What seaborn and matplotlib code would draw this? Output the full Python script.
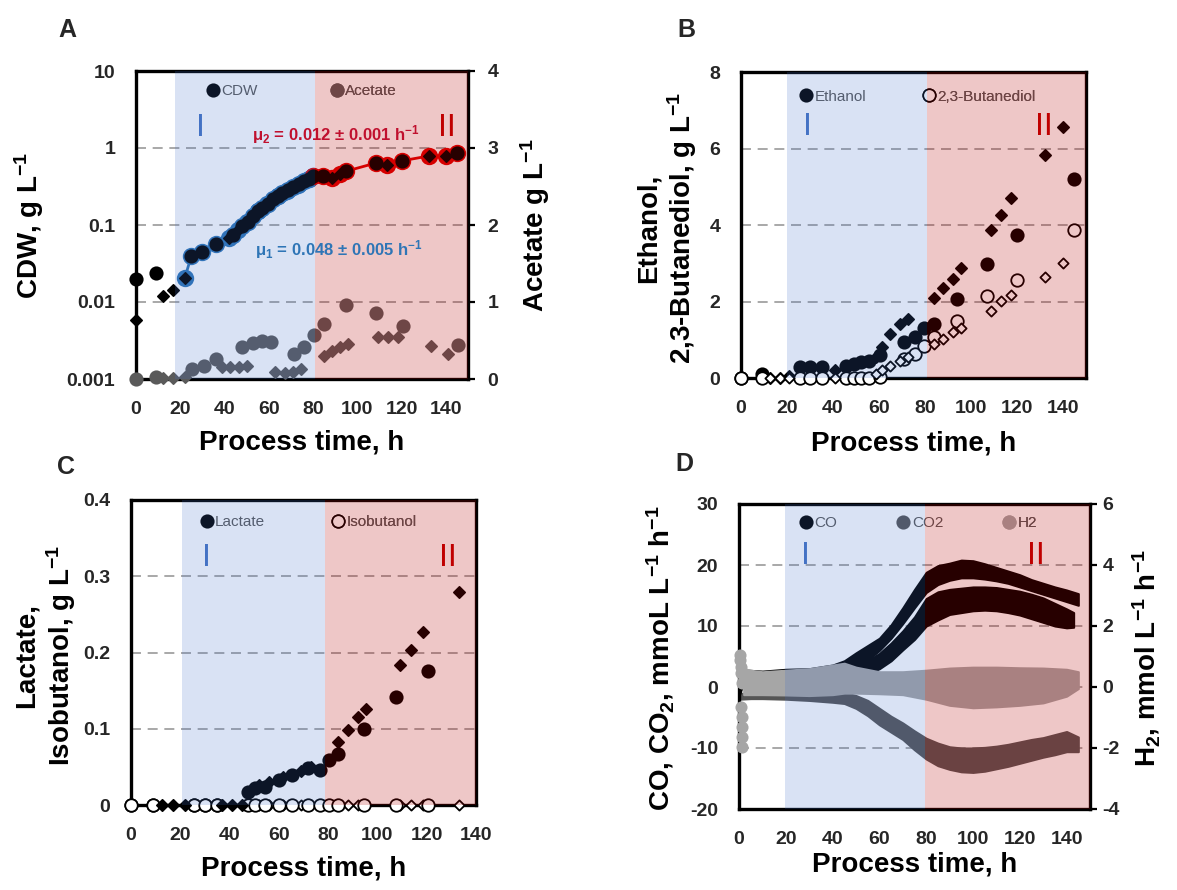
import matplotlib
matplotlib.use("Agg")
import matplotlib.pyplot as plt
import matplotlib.transforms as mtransforms
from matplotlib.lines import Line2D
import numpy as np
import pandas as pd
import seaborn as sns

# ---------------- data ----------------
# Panel A: cell dry weight (g/L, log axis) and acetate (g/L); reactor 1 = circles, reactor 2 = diamonds
cdw_t_r1 = [0, 9, 25, 30, 36, 44, 48, 50.5, 53, 55, 57, 59.5, 62, 64, 66, 68.5, 71, 73.5, 76, 78,
            80, 84.5, 95, 108.5, 120, 145]
cdw_v_r1 = [0.0197, 0.0236, 0.0395, 0.0444, 0.056, 0.075, 0.097, 0.11, 0.131, 0.15, 0.168, 0.19,
            0.216, 0.24, 0.264, 0.285, 0.307, 0.34, 0.375, 0.40, 0.435, 0.43, 0.50, 0.64, 0.68, 0.87]
cdw_t_r2 = [0, 12, 16.6, 22, 42, 46, 50, 55, 59, 64, 68, 73, 78, 88.5, 92, 113.5, 132.5, 140]
cdw_v_r2 = [0.0058, 0.0121, 0.0143, 0.0203, 0.068, 0.085, 0.11, 0.15, 0.19, 0.24, 0.28, 0.33,
            0.40, 0.41, 0.46, 0.60, 0.79, 0.78]
ace_t_r1 = [0, 9, 25.5, 30.5, 36, 48, 53, 57, 61, 71.5, 76, 80.5, 85, 95, 108.5, 120.5, 145.5]
ace_v_r1 = [0, 0.02, 0.13, 0.17, 0.26, 0.41, 0.47, 0.50, 0.48, 0.32, 0.41, 0.57, 0.72, 0.96,
            0.86, 0.69, 0.44]
ace_t_r2 = [0, 12, 16.6, 22, 39, 42.5, 46.5, 50, 63, 67.5, 71, 74.5, 85, 88.5, 92, 96, 109.5,
            114, 118.5, 133.5, 141]
ace_v_r2 = [0, 0.01, 0.01, 0.02, 0.16, 0.15, 0.16, 0.17, 0.09, 0.08, 0.09, 0.13, 0.30, 0.37,
            0.42, 0.46, 0.55, 0.55, 0.55, 0.43, 0.32]
phase_I_fit = (20, 80)      # growth phase I, mu1
phase_II_fit = (80, 146)    # growth phase II, mu2

# Panel B: ethanol and 2,3-butanediol (g/L)
eth_t_r1 = [0, 9, 25.5, 30, 35, 45.5, 49, 52, 55.5, 60.5, 71, 75.5, 79.5, 84, 94, 107, 120, 145]
eth_v_r1 = [0, 0.10, 0.28, 0.28, 0.28, 0.32, 0.36, 0.41, 0.45, 0.60, 0.95, 1.06, 1.32, 1.40,
            2.06, 2.97, 3.75, 5.20]
eth_t_r2 = [12.5, 17, 21, 41, 58.5, 61.5, 65, 69, 72.5, 84, 88, 92, 95.5, 108.5, 113, 117.5, 132, 140]
eth_v_r2 = [0, 0, 0.05, 0.20, 0.55, 0.80, 1.15, 1.40, 1.54, 2.10, 2.36, 2.58, 2.88, 3.88, 4.27,
            4.70, 5.83, 6.57]
bdo_v_r1 = [0, 0, 0, 0, 0, 0, 0, 0, 0, 0.02, 0.50, 0.62, 0.84, 1.06, 1.50, 2.14, 2.55, 3.88]
bdo_v_r2 = [0, 0, 0, 0, 0.10, 0.20, 0.32, 0.45, 0.55, 0.88, 1.02, 1.19, 1.32, 1.75, 2.01, 2.16,
            2.64, 3.00]

# Panel C: lactate and isobutanol (g/L)
lac_t_r1 = [0, 9, 25.5, 30, 35, 47.5, 50.5, 54.5, 60, 65.5, 72, 76.5, 80.5, 84, 94.5, 107.5, 120.5]
lac_v_r1 = [0, 0, 0, 0, 0, 0.017, 0.022, 0.024, 0.033, 0.039, 0.048, 0.046, 0.059, 0.067, 0.100,
            0.142, 0.176]
lac_t_r2 = [12.5, 17, 22, 37, 41, 45, 52, 56, 61.5, 65, 69, 73, 84, 88, 92, 95.5, 109, 113.5, 118.5, 133]
lac_v_r2 = [0, 0, 0, 0, 0, 0, 0.026, 0.030, 0.037, 0.039, 0.044, 0.050, 0.082, 0.098, 0.115,
            0.126, 0.183, 0.203, 0.227, 0.279]
iso_v_r1 = [0] * len(lac_t_r1)
iso_v_r2 = [0] * len(lac_t_r2)

# Panel D: online gas rates (mmol/L/h), band = lower/upper envelope of the signal
co_t_r1 = [0, 2, 10, 20, 30, 40, 45, 50, 55, 60, 65, 70, 75, 80, 85, 90, 95, 100, 105, 110, 115,
           120, 125, 130, 135, 140, 145]
co_hi_r1 = [3.5, 2.8, 2.6, 2.9, 3.0, 3.6, 4.3, 5.6, 6.8, 8.0, 10.2, 13.0, 16.0, 18.8, 19.9, 20.3,
            20.8, 20.7, 20.2, 19.6, 19.0, 18.4, 17.6, 17.0, 16.4, 15.9, 15.3]
co_lo_r1 = [-1.5, 0.8, 1.0, 1.2, 1.3, 1.6, 2.0, 3.0, 4.4, 6.0, 8.0, 10.4, 13.0, 15.5, 16.8, 17.5,
            17.9, 17.9, 17.7, 17.4, 17.0, 16.4, 15.8, 15.2, 14.6, 14.0, 13.4]
co_t_r2 = [45, 50, 55, 60, 65, 70, 75, 80, 85, 90, 95, 100, 105, 110, 115, 120, 125, 130, 135, 140, 143]
co_hi_r2 = [3.0, 3.5, 4.3, 5.5, 7.2, 9.2, 11.5, 14.5, 15.6, 16.0, 16.2, 16.4, 16.4, 16.3, 16.0,
            15.7, 15.2, 14.6, 13.7, 12.8, 12.2]
co_lo_r2 = [0.8, 1.2, 2.2, 3.0, 4.3, 6.1, 7.8, 10.0, 11.0, 11.9, 12.2, 12.5, 12.6, 12.5, 12.2,
            11.8, 11.2, 10.6, 10.0, 9.7, 9.8]
co2_t = [0, 5, 10, 20, 30, 40, 45, 50, 55, 60, 65, 70, 75, 80, 85, 90, 95, 100, 105, 110, 115,
         120, 125, 130, 135, 140, 145]
co2_hi = [-1.0, -1.1, -1.1, -1.2, -1.3, -1.0, -0.9, -1.4, -2.2, -3.5, -4.8, -5.9, -7.2, -8.4,
          -9.2, -9.8, -10.0, -10.0, -9.9, -9.7, -9.4, -9.0, -8.6, -8.3, -7.8, -7.3, -8.2]
co2_lo = [-2.0, -1.9, -1.9, -2.0, -2.2, -2.5, -2.7, -3.5, -4.7, -6.2, -7.4, -8.6, -10.3, -11.8,
          -12.9, -13.5, -13.9, -14.0, -13.8, -13.4, -13.0, -12.5, -12.0, -11.5, -11.1, -10.6, -10.6]
h2_t = [2, 5, 10, 20, 30, 40, 45, 50, 60, 70, 80, 90, 100, 110, 120, 130, 140, 145]
h2_hi = [0.60, 0.55, 0.50, 0.55, 0.60, 0.72, 0.78, 0.65, 0.50, 0.50, 0.55, 0.62, 0.65, 0.65,
         0.63, 0.62, 0.58, 0.50]
h2_lo = [-0.25, -0.25, -0.25, -0.26, -0.28, -0.25, -0.20, -0.20, -0.22, -0.25, -0.40, -0.60,
         -0.68, -0.65, -0.60, -0.52, -0.30, -0.05]
h2_start_t = [0.4, 0.6, 0.8, 1.0, 1.2, 1.0, 1.1, 1.3, 1.2, 1.4]
h2_start_v = [1.05, 0.88, 0.67, 0.46, 0.13, -0.65, -0.97, -1.30, -1.63, -1.96]

# ---------------- style ----------------
sns.set_theme(style="white")
FONT = ["Liberation Sans", "DejaVu Sans"]
plt.rcParams["font.family"] = FONT
plt.rcParams["mathtext.fontset"] = "custom"
plt.rcParams["mathtext.rm"] = "Liberation Sans:bold"
plt.rcParams["mathtext.it"] = "Liberation Sans:bold:italic"
plt.rcParams["mathtext.bf"] = "Liberation Sans:bold"

TICK_FS, LABEL_FS, LEG_FS, MU_FS, PHASE_FS = 14, 20, 11, 12, 23

BLUE_SHADE, RED_SHADE = "#416ec8", "#b60000"
GRID = "#9a9a9a"
FIT1, FIT2 = "#2e75b6", "#e00000"
ACE = "#5a5a5a"
CO2C, H2C = "#555555", "#a6a6a6"
LEGTXT = "#595959"

W, H = 1177, 890
fig = plt.figure(figsize=(W / 100, H / 100), dpi=100)


def rect(l, t, r, b):
    return [l / W, 1 - b / H, (r - l) / W, (b - t) / H]


def frame(ax, visible=True):
    for s in ax.spines.values():
        s.set_visible(visible)
        s.set_linewidth(2.4)
        s.set_color("black")
        s.set_zorder(2)


def xaxis(ax, xmax, ticks):
    ax.set_xlim(0, xmax)
    ax.set_xticks(ticks)
    ax.set_xticklabels([f"{v:g}" for v in ticks], fontweight="bold", fontsize=TICK_FS)
    ax.tick_params(axis="x", length=0, pad=16)


def yaxis(ax, lo, hi, ticks, labels=None):
    ax.set_ylim(lo, hi)
    ax.set_yticks(ticks)
    ax.set_yticklabels(labels or [f"{v:g}" for v in ticks], fontweight="bold", fontsize=TICK_FS)
    ax.tick_params(axis="y", length=0, pad=15)
    ax.yaxis.set_minor_locator(matplotlib.ticker.NullLocator())


def dashed_grid(ax, values):
    for v in values:
        ax.axhline(v, color=GRID, lw=1.2, ls=(0, (6, 4)), zorder=1)


def dots(ax, t, v, marker, face, edge=None, size=9.0, lw=1.2, z=3):
    sns.scatterplot(x=t, y=v, ax=ax, marker=marker, s=size ** 2, color=face,
                    edgecolor=edge or face, linewidth=lw, zorder=z, clip_on=False, legend=False)


def shade(ax, x0, x1, x2):
    ax.axvspan(x0, x1, color=BLUE_SHADE, alpha=0.2, lw=0, zorder=4)
    ax.axvspan(x1, x2, color=RED_SHADE, alpha=0.22, lw=0, zorder=4)


def phases(ax, x_i, x_ii, y):
    tr = mtransforms.blended_transform_factory(ax.transData, ax.transAxes)
    ax.text(x_i, y, "I", color="#4472c4", fontsize=PHASE_FS, ha="center", va="center",
            transform=tr, zorder=6)
    ax.text(x_ii, y, "II", color="#c00000", fontsize=PHASE_FS, ha="center", va="center",
            transform=tr, zorder=6)


def key(ax, x, y, label, marker, face, edge=None, ms=9.0):
    h = Line2D([], [], ls="none", marker=marker, markersize=ms, markerfacecolor=face,
               markeredgecolor=edge or face, markeredgewidth=1.2)
    leg = ax.legend(handles=[h], labels=[label], loc="center left",
                    bbox_to_anchor=(x - 0.016, y), bbox_transform=ax.transAxes,
                    frameon=False, handlelength=0.7, handletextpad=0.2, borderpad=0,
                    borderaxespad=0, prop={"family": FONT, "size": LEG_FS}, labelcolor=LEGTXT)
    leg.set_zorder(2)
    ax.add_artist(leg)


def xlabel(ax, y):
    ax.set_xlabel("Process time, h", fontsize=LABEL_FS, fontweight="bold", color="black")
    ax.xaxis.set_label_coords(0.5, y)


def ylabel(ax, text, x, y=0.5):
    ax.set_ylabel(text, fontsize=LABEL_FS, fontweight="bold", color="black", linespacing=1.15)
    ax.yaxis.set_label_coords(x, y)


# ---------------- Panel A ----------------
axA = fig.add_axes(rect(136, 71, 468, 379))
axA.set_facecolor("white")
axA.set_yscale("log")
frame(axA, False)
xaxis(axA, 150, [0, 20, 40, 60, 80, 100, 120, 140])
yaxis(axA, 0.001, 10, [0.001, 0.01, 0.1, 1, 10], ["0.001", "0.01", "0.1", "1", "10"])
dashed_grid(axA, [0.01, 0.1, 1])

cdw = pd.DataFrame({"t": cdw_t_r1 + cdw_t_r2, "v": cdw_v_r1 + cdw_v_r2}).sort_values("t")
fit1 = cdw[(cdw.t >= phase_I_fit[0]) & (cdw.t <= phase_I_fit[1])]
fit2 = cdw[(cdw.t >= phase_II_fit[0]) & (cdw.t <= phase_II_fit[1])]
sns.lineplot(x=fit1.t, y=fit1.v, ax=axA, color=FIT1, lw=2, marker="o", markersize=12.5,
             markeredgewidth=0, estimator=None, sort=True, zorder=2.5)
sns.lineplot(x=fit2.t, y=fit2.v, ax=axA, color=FIT2, lw=2, marker="o", markersize=12.5,
             markeredgewidth=0, estimator=None, sort=True, zorder=2.5)
dots(axA, cdw_t_r1, cdw_v_r1, "o", "black")
dots(axA, cdw_t_r2, cdw_v_r2, "D", "black", size=5.8)
key(axA, 0.232, 0.935, "CDW", "o", "black")
key(axA, 0.605, 0.935, "Acetate", "o", ACE)
axA.set_xlabel("")
axA.set_ylabel("")
xlabel(axA, -0.165)
ylabel(axA, "CDW, g L$^{-1}$", -0.272)

axA2 = axA.twinx()
frame(axA2, True)
axA2.set_ylim(0, 4)
axA2.set_yticks([0, 1, 2, 3, 4])
axA2.set_yticklabels(["0", "1", "2", "3", "4"], fontweight="bold", fontsize=TICK_FS)
axA2.tick_params(axis="y", length=5, width=1.6, direction="out", pad=9, color="black")
dots(axA2, ace_t_r1, ace_v_r1, "o", ACE)
dots(axA2, ace_t_r2, ace_v_r2, "D", ACE, size=5.8)
shade(axA2, 17.5, 81, 150)
phases(axA2, 29, 140.5, 0.815)
axA2.text(0.602, 0.795, "μ$_2$ = 0.012 ± 0.001 h$^{-1}$", transform=axA2.transAxes,
          color="#c0102e", fontsize=MU_FS, fontweight="bold", ha="center", va="center", zorder=6)
axA2.text(0.61, 0.419, "μ$_1$ = 0.048 ± 0.005 h$^{-1}$", transform=axA2.transAxes,
          color=FIT1, fontsize=MU_FS, fontweight="bold", ha="center", va="center", zorder=6)
ylabel(axA2, "Acetate g L$^{-1}$", 1.15)
axA2.set_xlim(0, 150)

# ---------------- Panel B ----------------
axB = fig.add_axes(rect(741, 72, 1086, 378))
frame(axB)
xaxis(axB, 150, [0, 20, 40, 60, 80, 100, 120, 140])
yaxis(axB, 0, 8, [0, 2, 4, 6, 8])
dashed_grid(axB, [2, 4, 6])
dots(axB, eth_t_r1, eth_v_r1, "o", "black")
dots(axB, eth_t_r2, eth_v_r2, "D", "black", size=5.8)
dots(axB, eth_t_r1, bdo_v_r1, "o", "white", "black", lw=1.3)
dots(axB, eth_t_r2, bdo_v_r2, "D", "white", "black", size=5.2, lw=1.3)
key(axB, 0.189, 0.919, "Ethanol", "o", "black")
key(axB, 0.544, 0.919, "2,3-Butanediol", "o", "white", "black")
shade(axB, 20, 81, 150)
phases(axB, 29, 131.8, 0.82)
axB.set_xlabel("")
xlabel(axB, -0.17)
ylabel(axB, "Ethanol,\n2,3-Butanediol, g L$^{-1}$", -0.122, 0.49)

# ---------------- Panel C ----------------
axC = fig.add_axes(rect(131, 500, 476, 805))
frame(axC)
xaxis(axC, 140, [0, 20, 40, 60, 80, 100, 120, 140])
yaxis(axC, 0, 0.4, [0, 0.1, 0.2, 0.3, 0.4])
dashed_grid(axC, [0.1, 0.2, 0.3])
dots(axC, lac_t_r1, lac_v_r1, "o", "black")
dots(axC, lac_t_r2, iso_v_r2, "D", "white", "black", size=5.2, lw=1.3)
dots(axC, lac_t_r1, iso_v_r1, "o", "white", "black", lw=1.3)
dots(axC, lac_t_r2, lac_v_r2, "D", "black", size=5.8)
key(axC, 0.22, 0.928, "Lactate", "o", "black")
key(axC, 0.60, 0.928, "Isobutanol", "o", "white", "black")
shade(axC, 20.5, 78.7, 140)
phases(axC, 30.8, 128.5, 0.81)
axC.set_xlabel("")
xlabel(axC, -0.164)
ylabel(axC, "Lactate,\nIsobutanol, g L$^{-1}$", -0.155, 0.49)

# ---------------- Panel D ----------------
axD = fig.add_axes(rect(739, 504, 1090, 809))
frame(axD, False)
xaxis(axD, 150, [0, 20, 40, 60, 80, 100, 120, 140])
yaxis(axD, -20, 30, [-20, -10, 0, 10, 20, 30])
dashed_grid(axD, [-10, 0, 10, 20])
axD.fill_between(co2_t, co2_lo, co2_hi, color=CO2C, lw=1.5, edgecolor=CO2C, zorder=2.6)
axD.fill_between(co_t_r2, co_lo_r2, co_hi_r2, color="black", lw=1.5, edgecolor="black", zorder=2.7)
axD.fill_between(co_t_r1, co_lo_r1, co_hi_r1, color="black", lw=1.5, edgecolor="black", zorder=2.8)
key(axD, 0.192, 0.937, "CO", "o", "black")
key(axD, 0.469, 0.937, "CO2", "o", CO2C)
key(axD, 0.771, 0.937, "H2", "o", H2C)
axD.set_xlabel("")
xlabel(axD, -0.14)
ylabel(axD, "CO, CO$_2$, mmoL L$^{-1}$ h$^{-1}$", -0.18, 0.495)

axD2 = axD.twinx()
frame(axD2, True)
axD2.set_ylim(-4, 6)
axD2.set_yticks([-4, -2, 0, 2, 4, 6])
axD2.set_yticklabels(["-4", "-2", "0", "2", "4", "6"], fontweight="bold", fontsize=TICK_FS)
axD2.tick_params(axis="y", length=5, width=1.6, direction="out", pad=4, color="black")
axD2.fill_between(h2_t, h2_lo, h2_hi, color=H2C, lw=1.5, edgecolor=H2C, zorder=3)
dots(axD2, h2_start_t, h2_start_v, "o", H2C, size=7.5)
shade(axD2, 19.8, 79.5, 150)
phases(axD2, 28.2, 127, 0.83)
ylabel(axD2, "H$_2$, mmol L$^{-1}$ h$^{-1}$", 1.115, 0.495)
axD2.set_xlim(0, 150)

# panel letters
for letter, (px, py) in {"A": (67, 30), "B": (686, 30), "C": (66, 467), "D": (684, 464)}.items():
    fig.text(px / W, 1 - py / H, letter, fontsize=18, fontweight="bold",
             ha="center", va="center")

fig.savefig("out.png", dpi=100)
